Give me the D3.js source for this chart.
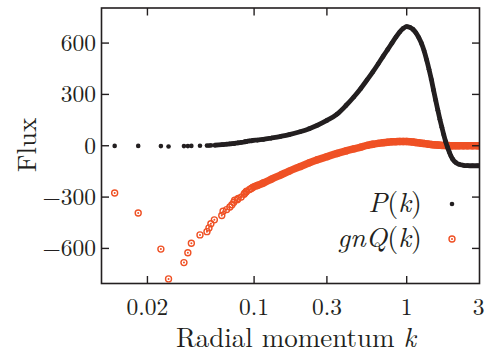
<!DOCTYPE html>
<html>
<head>
<meta charset="utf-8">
<script src="https://cdn.jsdelivr.net/npm/d3@7"></script>
<style>
  html, body { margin: 0; padding: 0; background: #fff; }
  svg { display: block; }
</style>
</head>
<body>
<svg id="chart" width="489" height="354"></svg>
<script>
// radial momentum k (shared by both series)
const kValues = [
  0.0122, 0.0174, 0.0245, 0.0275, 0.0347, 0.0368, 0.0388, 0.0442, 0.0491, 0.0506,
  0.0521, 0.0549, 0.0614, 0.0626, 0.0661, 0.0694, 0.0716, 0.0736, 0.0746, 0.0776,
  0.0786, 0.0823, 0.0859, 0.0868, 0.0885, 0.0893, 0.0934, 0.0958, 0.0982,
  0.105, 0.115, 0.13, 0.15, 0.17, 0.2, 0.23, 0.26, 0.3, 0.35,
  0.4, 0.45, 0.5, 0.55, 0.6, 0.65, 0.7, 0.75, 0.8, 0.85,
  0.9, 0.95, 1.0, 1.05, 1.1, 1.15, 1.2, 1.25, 1.3, 1.35,
  1.4, 1.45, 1.5, 1.55, 1.6, 1.65, 1.7, 1.75, 1.8, 1.85,
  1.9, 1.95, 2.0, 2.1, 2.2, 2.35, 2.5, 2.7, 2.9, 3.0
];

// P(k)
const pValues = [
  -1, -1, -2, -4, -2, -2, -1, 0, 1, 1,
  2, 3, 6, 7, 9, 11, 12, 13, 14, 16,
  17, 19, 22, 23, 24, 25, 28, 29, 31,
  33, 37, 45, 55, 65, 82, 100, 120, 148, 185,
  235, 285, 335, 385, 432, 478, 522, 562, 600, 635,
  665, 686, 696, 692, 680, 660, 632, 598, 555, 503,
  447, 388, 325, 265, 208, 155, 108, 64, 25, -8,
  -36, -60, -78, -98, -108, -114, -116, -117, -117, -117
];

// gnQ(k)
const qValues = [
  -276, -393, -604, -778, -683, -625, -570, -521, -502, -480,
  -456, -433, -408, -383, -373, -358, -345, -330, -318, -315,
  -308, -300, -284, -278, -270, -266, -256, -250, -243,
  -232, -218, -195, -170, -148, -122, -100, -82, -64, -45,
  -30, -18, -8, 2, 9, 14, 18, 21, 23, 24,
  25, 25, 25, 24, 22, 19, 17, 15, 13, 11,
  9, 7, 6, 5, 4, 3, 2, 2, 1, 1,
  1, 0, 0, 0, 0, 0, 0, 0, 0, 0
];

const xTicks = [0.02, 0.1, 0.3, 1, 3];
const xTickLabels = ['0.02', '0.1', '0.3', '1', '3'];
const yTicks = [-600, -300, 0, 300, 600];

const INK = '#231f20';
const RED = '#ef5125';
const FONT = '"Latin Modern Roman", "Liberation Serif", serif';

const margin = { top: 8, right: 9.5, bottom: 70.5, left: 101.5 };
const width = 489, height = 354;

const svg = d3.select('#chart');

const x = d3.scaleLog().domain([0.01, 3]).range([margin.left, width - margin.right]);
const y = d3.scaleLinear().domain([-805, 805]).range([height - margin.bottom, margin.top]);

const pData = kValues.map((k, i) => ({ k, v: pValues[i] }));
const qData = kValues.map((k, i) => ({ k, v: qValues[i] }));

svg.append('clipPath').attr('id', 'plot-clip')
  .append('rect')
  .attr('x', margin.left).attr('y', margin.top)
  .attr('width', width - margin.left - margin.right)
  .attr('height', height - margin.top - margin.bottom);

const plot = svg.append('g').attr('clip-path', 'url(#plot-clip)');

// dense part of each series is so tightly packed that it reads as a thick line
const line = d3.line().x(d => x(d.k)).y(d => y(d.v)).curve(d3.curveMonotoneX);

plot.append('path')
  .datum(qData.filter(d => d.k >= 0.0958))
  .attr('d', line)
  .attr('fill', 'none')
  .attr('stroke', RED)
  .attr('stroke-width', 7.5);

const drawRing = (sel) => {
  sel.append('circle').attr('r', 3).attr('fill', 'none').attr('stroke', RED).attr('stroke-width', 1.4);
  sel.append('circle').attr('r', 1).attr('fill', RED);
};

plot.selectAll('g.q')
  .data(qData)
  .enter()
  .append('g')
  .attr('class', 'q')
  .attr('transform', d => `translate(${x(d.k)},${y(d.v)})`)
  .call(drawRing);

plot.append('path')
  .datum(pData.filter(d => d.k >= 0.0549))
  .attr('d', line)
  .attr('fill', 'none')
  .attr('stroke', INK)
  .attr('stroke-width', 4.8);

plot.selectAll('circle.p')
  .data(pData)
  .enter()
  .append('circle')
  .attr('class', 'p')
  .attr('cx', d => x(d.k))
  .attr('cy', d => y(d.v))
  .attr('r', 2.3)
  .attr('fill', INK);

// frame with inward ticks on all four sides
const x0 = margin.left, x1 = width - margin.right;
const y0 = margin.top, y1 = height - margin.bottom;
const TICK = 7.5;

svg.append('rect')
  .attr('x', x0).attr('y', y0)
  .attr('width', x1 - x0).attr('height', y1 - y0)
  .attr('fill', 'none').attr('stroke', INK).attr('stroke-width', 1.6);

const ticks = svg.append('g').attr('stroke', INK).attr('stroke-width', 1.4);

xTicks.filter(t => t < 3).forEach(t => {
  ticks.append('line').attr('x1', x(t)).attr('x2', x(t)).attr('y1', y1).attr('y2', y1 - TICK);
  ticks.append('line').attr('x1', x(t)).attr('x2', x(t)).attr('y1', y0).attr('y2', y0 + TICK);
});

yTicks.forEach(t => {
  ticks.append('line').attr('x1', x0).attr('x2', x0 + TICK).attr('y1', y(t)).attr('y2', y(t));
  ticks.append('line').attr('x1', x1).attr('x2', x1 - TICK).attr('y1', y(t)).attr('y2', y(t));
});

const labels = svg.append('g')
  .attr('font-family', FONT)
  .attr('fill', INK);

labels.append('g').selectAll('text')
  .data(xTicks)
  .enter()
  .append('text')
  .attr('x', (d, i) => i === xTicks.length - 1 ? x(d) - 1 : x(d))
  .attr('y', 315)
  .attr('text-anchor', 'middle')
  .attr('font-size', 23.5)
  .text((d, i) => xTickLabels[i]);

labels.append('g').selectAll('text')
  .data(yTicks)
  .enter()
  .append('text')
  .attr('x', 96)
  .attr('y', d => y(d))
  .attr('dy', '0.33em')
  .attr('text-anchor', 'end')
  .attr('font-size', 23.5)
  .text(d => d < 0 ? '\u2212' + Math.abs(d) : String(d));

// axis titles
const xTitle = labels.append('text')
  .attr('x', 296)
  .attr('y', 347)
  .attr('text-anchor', 'middle')
  .attr('font-size', 27);
xTitle.append('tspan').text('Radial momentum ');
xTitle.append('tspan').attr('font-style', 'italic').text('k');

labels.append('text')
  .attr('transform', 'translate(36,145) rotate(-90)')
  .attr('text-anchor', 'middle')
  .attr('font-size', 27)
  .text('Flux');

// legend
const mathLabel = (parts, ty) => {
  const t = labels.append('text')
    .attr('x', 422)
    .attr('y', ty)
    .attr('text-anchor', 'end')
    .attr('font-size', 28);
  parts.forEach(([s, italic]) => {
    t.append('tspan').attr('font-style', italic ? 'italic' : 'normal').text(s);
  });
};

mathLabel([['P', true], ['(', false], ['k', true], [')', false]], 212);
mathLabel([['gnQ', true], ['(', false], ['k', true], [')', false]], 247);

svg.append('circle').attr('cx', 452).attr('cy', 204).attr('r', 2.3).attr('fill', INK);
svg.append('g').attr('transform', 'translate(452,239)').call(drawRing);
</script>
</body>
</html>
